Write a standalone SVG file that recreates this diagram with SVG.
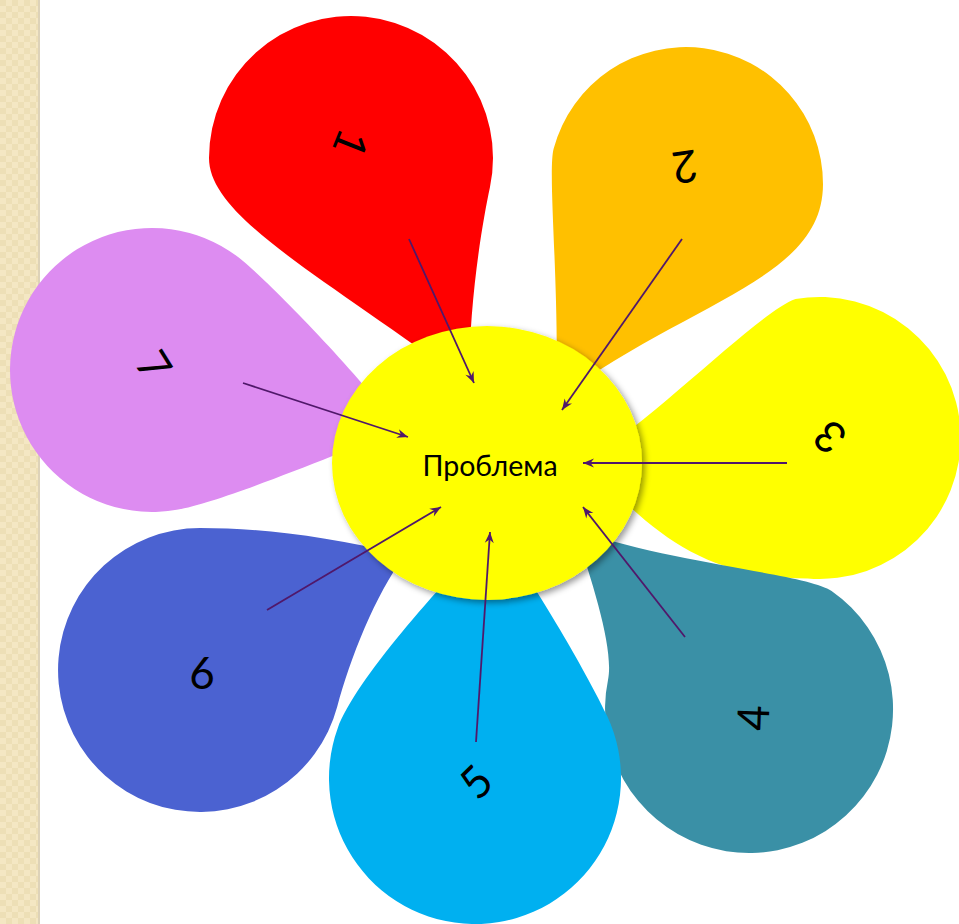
<svg xmlns="http://www.w3.org/2000/svg" width="959" height="924" viewBox="0 0 959 924">
  <style>
    .digit { font-family: "Lato", "Open Sans", sans-serif; font-size: 44px; fill: #000; text-anchor: middle; dominant-baseline: central; }
    .label { font-family: "Lato", "Open Sans", sans-serif; font-size: 28.5px; fill: #000; text-anchor: middle; dominant-baseline: central; }
    .arrow { stroke: #50186a; stroke-width: 1.8; fill: none; marker-end: url(#head); }
  </style>
  <defs>
    <marker id="head" viewBox="-12 -6 14 12" refX="0" refY="0" markerWidth="14" markerHeight="12" markerUnits="userSpaceOnUse" orient="auto">
      <path d="M 0 0 L -11 -4.5 L -7.5 0 L -11 4.5 Z" fill="#50186a"/>
    </marker>
    <pattern id="weave" width="12" height="12" patternUnits="userSpaceOnUse">
      <rect width="12" height="12" fill="#f4e7c3"/>
      <rect x="0" y="0" width="6" height="6" fill="#eddfb6"/>
      <rect x="6" y="6" width="6" height="6" fill="#eddfb6"/>
    </pattern>
    <filter id="shadow" x="-10%" y="-10%" width="125%" height="125%">
      <feDropShadow dx="3" dy="3" stdDeviation="3" flood-color="#000" flood-opacity="0.4"/>
    </filter>
  </defs>

  <rect width="959" height="924" fill="#fff"/>
  <!-- side band -->
  <rect x="0" y="0" width="39" height="924" fill="url(#weave)"/>
  <rect x="38" y="0" width="2" height="924" fill="#ddd2b8"/>

  <!-- petals: round head, neck tapering to a point hidden under the centre -->
  <g id="petal-1"><path fill="#ff0000" d="M 469 385 C 469 300 482.6 221.7 489.9 187.5 A 142 142 0 1 0 209 158 C 209 218 325 277 469 385 Z"/></g>
  <g id="petal-2"><path fill="#ffc000" d="M 556 400 C 560 290 547.2 172.7 553.7 148.5 A 137 137 0 0 1 823 184 C 823 280 690 300 556 400 Z"/></g>
  <g id="petal-3"><path fill="#ffff00" d="M 585 462 C 660 415 757.9 312.7 795.5 299.1 A 141 141 0 1 1 807.7 578.5 C 700 578 650 530 585 462 Z"/></g>
  <g id="petal-4"><path fill="#3a90a6" d="M 575 530 C 680 565 807 573.8 831.6 591 A 144 144 0 1 1 608 680 C 614 650.6 594.2 587 575 530 Z"/></g>
  <g id="petal-5"><path fill="#00b0f0" d="M 495 530 C 537 586 590.4 680 607.3 716.3 A 146 146 0 1 1 337.8 728.1 C 354.9 681.1 438.4 586.6 495 530 Z"/></g>
  <g id="petal-6"><path fill="#4b62d1" d="M 405 555 C 325 536 260 528 200 528 A 142 142 0 1 0 337.2 706.8 C 350.2 658.5 375 595 405 555 Z"/></g>
  <g id="petal-7"><path fill="#dd8cf1" d="M 400 430 C 352 366 270.1 283.7 243.3 261.2 A 142 142 0 1 0 176.7 509.8 C 226 501.1 343.6 450.4 400 430 Z"/></g>

  <g id="center">
    <ellipse cx="487" cy="463" rx="155" ry="137" fill="#ffff00" filter="url(#shadow)"/>
    <text class="label" x="490" y="465">Проблема</text>
  </g>

  <g id="labels">
    <text class="digit" transform="translate(352 144) rotate(112)">1</text>
    <text class="digit" transform="translate(685 168) rotate(172)" fill="#3a3a30">2</text>
    <text class="digit" transform="translate(829 438) rotate(222)">3</text>
    <text class="digit" transform="translate(752 718) rotate(-88)">4</text>
    <text class="digit" transform="translate(475 781) rotate(-44)">5</text>
    <text class="digit" transform="translate(202 672)">6</text>
    <text class="digit" transform="translate(155 365) rotate(58)">7</text>
  </g>

  <g id="connectors">
    <line class="arrow" x1="409" y1="239" x2="474" y2="383"/>
    <line class="arrow" x1="682" y1="239" x2="562" y2="410"/>
    <line class="arrow" x1="787" y1="463" x2="583" y2="463"/>
    <line class="arrow" x1="685" y1="637" x2="583" y2="507"/>
    <line class="arrow" x1="476" y1="742" x2="490" y2="532"/>
    <line class="arrow" x1="267" y1="610" x2="441" y2="507"/>
    <line class="arrow" x1="243" y1="383" x2="408" y2="437"/>
  </g>
</svg>
